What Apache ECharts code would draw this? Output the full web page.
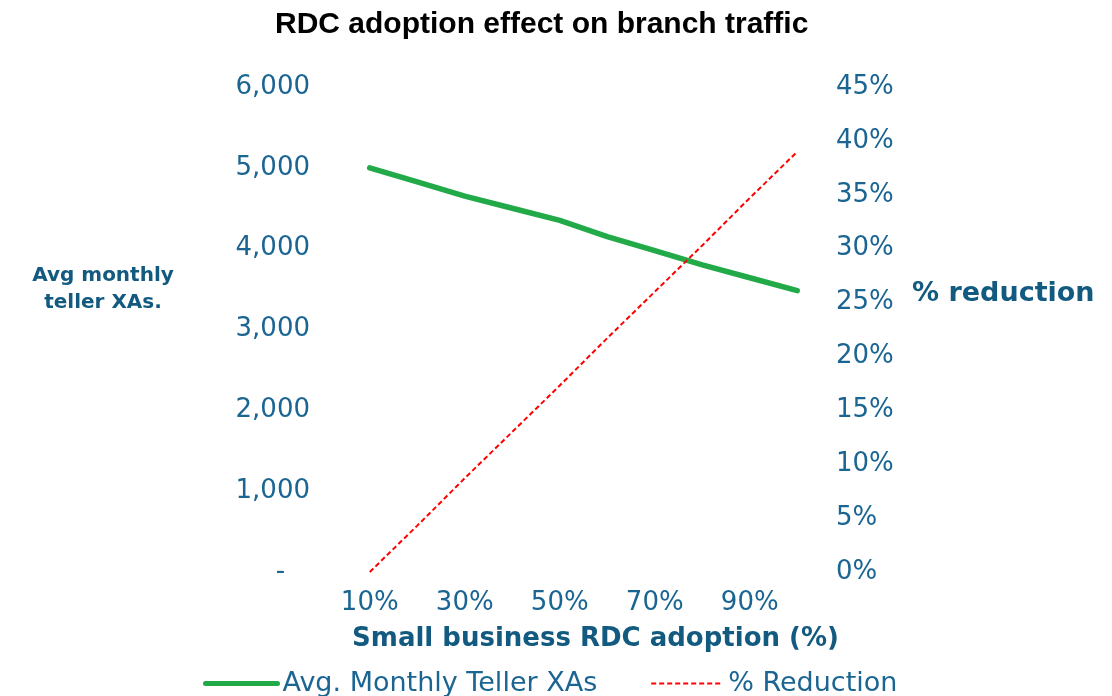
<!DOCTYPE html>
<html>
<head>
<meta charset="utf-8">
<script src="https://cdn.jsdelivr.net/npm/echarts@6/dist/echarts.min.js"></script>
<style>
  html, body { margin: 0; padding: 0; background: #fff; }
  #chart { width: 1112px; height: 696px; }
</style>
</head>
<body>
<div id="chart"></div>
<script>
// 数据
const adoption = ['10%', '20%', '30%', '40%', '50%', '60%', '70%', '80%', '90%', '100%'];
const tellerXAs = [5000, 4825, 4650, 4500, 4350, 4150, 3975, 3800, 3640, 3480];
const reduction = [0, 4.3, 8.7, 13.0, 17.3, 21.7, 26.0, 30.3, 34.7, 39.0];

(function () {
    let myChart = echarts.init(document.getElementById('chart'));
    let tickColor = '#1B6593';
    let nameColor = '#135A80';
    let option = {
        animation: false,
        title: {
            text: 'RDC adoption effect on branch traffic',
            left: 270,
            top: 5,
            textStyle: {
                fontFamily: 'Liberation Sans',
                fontWeight: 'bold',
                fontSize: 30,
                color: '#000'
            }
        },
        grid: { left: 346, right: 291, top: 87, bottom: 124 },
        legend: {
            left: 198,
            top: 665,
            itemWidth: 72,
            itemHeight: 14,
            itemGap: 53,
            itemStyle: { opacity: 0 },
            textStyle: { fontFamily: 'DejaVu Sans', fontSize: 27, color: tickColor },
            data: [
                { name: 'Avg. Monthly Teller XAs', lineStyle: { width: 5 } },
                { name: '% Reduction', lineStyle: { width: 2 } }
            ]
        },
        xAxis: {
            type: 'category',
            data: adoption,
            axisLine: { show: false },
            axisTick: { show: false },
            axisLabel: {
                interval: 1,
                margin: 18,
                fontFamily: 'DejaVu Sans',
                fontSize: 26,
                color: tickColor
            },
            name: 'Small business RDC adoption (%)',
            nameLocation: 'middle',
            nameGap: 54,
            nameTextStyle: {
                fontFamily: 'DejaVu Sans',
                fontWeight: 'bold',
                fontSize: 26,
                padding: [0, 0, 0, 24],
                color: nameColor
            }
        },
        yAxis: [
            {
                type: 'value',
                min: 0,
                max: 6000,
                interval: 1000,
                axisLine: { show: false },
                axisTick: { show: false },
                splitLine: { show: false },
                axisLabel: {
                    margin: 36,
                    fontFamily: 'DejaVu Sans',
                    fontSize: 26,
                    color: tickColor,
                    formatter: function (v) {
                        return v === 0 ? '-\u00a0\u00a0\u00a0' : v.toLocaleString('en-US');
                    }
                },
                // trailing blank lines lift the two text lines above the middle
                name: 'Avg monthly\nteller XAs.\n \n \n ',
                nameLocation: 'middle',
                nameRotate: 0,
                nameGap: 243,
                nameTextStyle: {
                    fontFamily: 'DejaVu Sans',
                    fontWeight: 'bold',
                    fontSize: 20,
                    lineHeight: 27,
                    align: 'center',
                    verticalAlign: 'middle',
                    color: nameColor
                }
            },
            {
                type: 'value',
                min: 0,
                max: 45,
                interval: 5,
                axisLine: { show: false },
                axisTick: { show: false },
                splitLine: { show: false },
                axisLabel: {
                    margin: 15,
                    fontFamily: 'DejaVu Sans',
                    fontSize: 26,
                    color: tickColor,
                    formatter: '{value}%'
                },
                name: '% reduction\n \n \n ',
                nameLocation: 'middle',
                nameRotate: 0,
                nameGap: 91,
                nameTextStyle: {
                    fontFamily: 'DejaVu Sans',
                    fontWeight: 'bold',
                    fontSize: 27,
                    lineHeight: 24,
                    align: 'left',
                    verticalAlign: 'middle',
                    color: nameColor
                }
            }
        ],
        series: [
            {
                name: 'Avg. Monthly Teller XAs',
                type: 'line',
                data: tellerXAs,
                yAxisIndex: 0,
                symbol: 'none',
                lineStyle: { color: '#22AA48', width: 5.5, cap: 'round' },
                itemStyle: { color: '#22AA48' }
            },
            {
                name: '% Reduction',
                type: 'line',
                data: reduction,
                yAxisIndex: 1,
                symbol: 'none',
                lineStyle: { color: '#FF0000', width: 2, type: [5, 3] },
                itemStyle: { color: '#FF0000' }
            }
        ]
    };
    myChart.setOption(option);
    window.addEventListener('resize', function () {
        myChart.resize()
    })
})();
</script>
</body>
</html>
